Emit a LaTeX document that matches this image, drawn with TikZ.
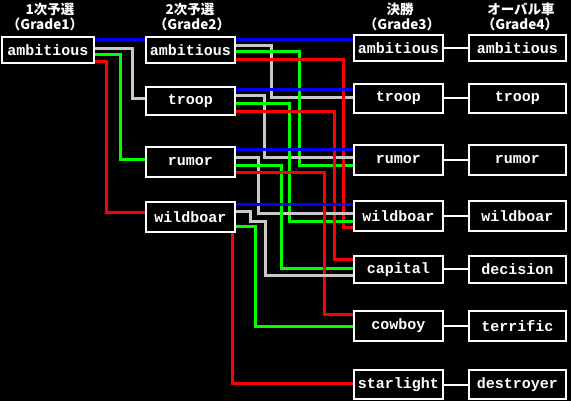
\documentclass[tikz,border=0pt]{standalone}
\usepackage{fontspec}
\setmonofont{Liberation Mono}
\newfontfamily\jpfont{Noto Sans CJK JP}
\usetikzlibrary{backgrounds}
\definecolor{lblue}{RGB}{0,0,255}
\definecolor{lgrey}{RGB}{200,200,200}
\definecolor{lgreen}{RGB}{0,255,0}
\definecolor{lred}{RGB}{255,0,0}
\begin{document}
\begin{tikzpicture}[x=1pt,y=-1pt,
  box/.style={draw=white, line width=2pt, fill=black, text=white, inner sep=0pt, outer sep=0pt,
    font=\ttfamily\bfseries\fontsize{15}{16}\selectfont},
  c1/.style={box, minimum width=92pt},
  c2/.style={box, minimum width=89pt},
  c3/.style={box, minimum width=89pt},
  c4/.style={box, minimum width=97pt},
  hd/.style={text=white, inner sep=0pt, font=\jpfont\bfseries\fontsize{13.5}{14}\selectfont},
  ln/.style={line width=3pt, line join=miter},
  blu/.style={ln, draw=lblue},
  gry/.style={ln, draw=lgrey},
  grn/.style={ln, draw=lgreen},
  rd/.style={ln, draw=lred},
  wl/.style={draw=white, line width=2pt}]
\useasboundingbox (0,0) rectangle (571,401);
% headers
\node[hd] (h1a) at (50,9.5) {1次予選};
\node[hd] (h1b) at (45,24) {（Grade1）};
\node[hd] (h2a) at (190,9.5) {2次予選};
\node[hd] (h2b) at (192,24) {（Grade2）};
\node[hd] (h3a) at (400,9.5) {決勝};
\node[hd] (h3b) at (402,24) {（Grade3）};
\node[hd] (h4a) at (521,9.5) {オーバル車};
\node[hd] (h4b) at (520,24) {（Grade4）};
% column 1
\node[c1, minimum height=26pt] (c1a) at (48,50) {ambitious};
% column 2
\node[c2, minimum height=26pt] (c2a) at (190.5,50) {ambitious};
\node[c2, minimum height=28pt] (c2t) at (190.5,101) {troop};
\node[c2, minimum height=30pt] (c2r) at (190.5,162) {rumor};
\node[c2, minimum height=30pt] (c2w) at (190.5,217) {wildboar};
% column 3
\node[c3, minimum height=26pt] (c3a) at (398.5,48) {ambitious};
\node[c3, minimum height=29pt] (c3t) at (398.5,98.5) {troop};
\node[c3, minimum height=30pt] (c3r) at (398.5,160) {rumor};
\node[c3, minimum height=30pt] (c3w) at (398.5,216) {wildboar};
\node[c3, minimum height=27pt] (c3c) at (398.5,269.5) {capital};
\node[c3, minimum height=30pt] (c3b) at (398.5,326) {cowboy};
\node[c3, minimum height=29pt] (c3s) at (398.5,384.5) {starlight};
% column 4
\node[c4, minimum height=26pt] (c4a) at (517.5,48) {ambitious};
\node[c4, minimum height=29pt] (c4t) at (517.5,98.5) {troop};
\node[c4, minimum height=30pt] (c4r) at (517.5,160) {rumor};
\node[c4, minimum height=30pt] (c4w) at (517.5,216) {wildboar};
\node[c4, minimum height=27pt] (c4c) at (517.5,269.5) {decision};
\node[c4, minimum height=30pt] (c4b) at (517.5,326) {terrific};
\node[c4, minimum height=29pt] (c4s) at (517.5,384.5) {destroyer};
\begin{scope}[on background layer]
\fill[black] (0,0) rectangle (571,401);
% from column 1 ambitious
\draw[blu] (c1a.east |- 0,40) -- (c2a.west |- 0,40);
\draw[gry] (c1a.east |- 0,49) -| (132,99) -- (c2t.west |- 0,99);
\draw[grn] (c1a.east |- 0,55) -| (120,160) -- (c2r.west |- 0,160);
\draw[rd]  (c1a.east |- 0,62) -| (106,213) -- (c2w.west |- 0,213);
% from column 2 ambitious
\draw[blu] (c2a.east |- 0,40) -- (c3a.west |- 0,40);
\draw[gry] (c2a.east |- 0,46) -| (271,98) -- (c3t.west |- 0,98);
\draw[grn] (c2a.east |- 0,52) -| (299,166) -- (c3r.west |- 0,166);
\draw[rd]  (c2a.east |- 0,60) -| (343,228) -- (c3w.west |- 0,228);
% from column 2 troop
\draw[blu] (c2t.east |- 0,90) -- (c3t.west |- 0,90);
\draw[gry] (c2t.east |- 0,96) -| (264,158) -- (c3r.west |- 0,158);
\draw[grn] (c2t.east |- 0,104) -| (289,222) -- (c3w.west |- 0,222);
\draw[rd]  (c2t.east |- 0,112) -| (334,260) -- (c3c.west |- 0,260);
% from column 2 rumor
\draw[blu] (c2r.east |- 0,150) -- (c3r.west |- 0,150);
\draw[gry] (c2r.east |- 0,158) -| (258,214) -- (c3w.west |- 0,214);
\draw[grn] (c2r.east |- 0,166) -| (281,269) -- (c3c.west |- 0,269);
\draw[rd]  (c2r.east |- 0,173) -| (324,314) -- (c3b.west |- 0,314);
% from column 2 wildboar
\draw[blu] (c2w.east |- 0,205) -- (c3w.west |- 0,205);
\draw[gry] (c2w.east |- 0,212) -| (250,222) -| (265,276) -- (c3c.west |- 0,276);
\draw[grn] (c2w.east |- 0,227) -| (255,326) -- (c3b.west |- 0,326);
\draw[rd]  (c2w.south -| 232,0) -- (232,383) -- (c3s.west |- 0,383);
% column 3 to column 4
\draw[wl] (c3a.east) -- (c4a.west);
\draw[wl] (c3t.east) -- (c4t.west);
\draw[wl] (c3r.east) -- (c4r.west);
\draw[wl] (c3w.east) -- (c4w.west);
\draw[wl] (c3c.east) -- (c4c.west);
\draw[wl] (c3b.east) -- (c4b.west);
\draw[wl] (c3s.east) -- (c4s.west);
\end{scope}
\end{tikzpicture}
\end{document}
